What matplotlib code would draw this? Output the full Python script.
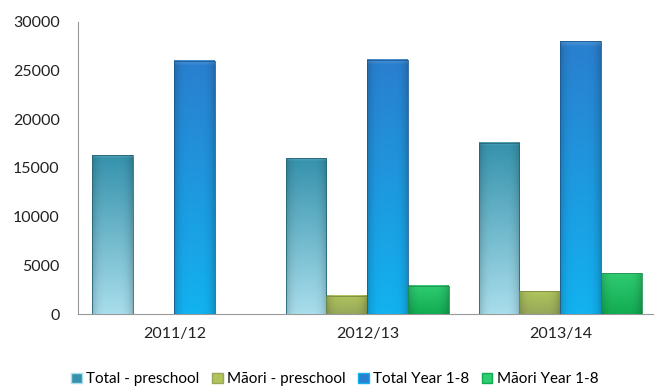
import numpy as np
import matplotlib.pyplot as plt
from matplotlib.patches import Patch

plt.rcParams['font.family'] = ['Lato', 'DejaVu Sans']

years = ['2011/12', '2012/13', '2013/14']
total_preschool = [16300, 16000, 17600]
maori_preschool = [0, 1850, 2350]
total_year18 = [26000, 26100, 28000]
maori_year18 = [0, 2900, 4200]

series = [
    ('Total - preschool', total_preschool, '#3592ac', '#a9deec'),
    ('M\u0101ori - preschool', maori_preschool, '#b0c45c', '#97a85a'),
    ('Total Year 1-8', total_year18, '#2a7fcf', '#12b2f0'),
    ('M\u0101ori Year 1-8', maori_year18, '#2fcc72', '#12ab52'),
]


def hex2rgb(h):
    h = h.lstrip('#')
    return np.array([int(h[i:i + 2], 16) / 255 for i in (0, 2, 4)])


def gradient(top, bottom, ny=200, nx=40):
    t = np.linspace(1, 0, ny)[:, None, None]
    img = hex2rgb(top) * t + hex2rgb(bottom) * (1 - t)
    img = np.repeat(img, nx, axis=1)
    u = np.linspace(-1, 1, nx)[None, :, None]
    img = img * (1 - 0.18 * np.abs(u) ** 4)
    # soft bevel along the top edge, fading downwards
    bevel = np.zeros((ny, 1, 1))
    bevel[:5, 0, 0] = np.linspace(0.15, 0.0, 5)
    img = img + (1 - img) * bevel
    return np.clip(img, 0, 1)


fig = plt.figure(figsize=(6.54, 3.87), dpi=100)
ax = fig.add_axes([0.119, 0.1886, 0.881, 0.7546])

x = np.arange(len(years))
w = 0.212
for i, (name, vals, top, bottom) in enumerate(series):
    bars = ax.bar(x + (i - 1.5) * w, vals, w, color=top, edgecolor='none', zorder=2)
    img = gradient(top, bottom)
    for r in bars:
        h = r.get_height()
        if h <= 0:
            continue
        ax.imshow(img, extent=[r.get_x(), r.get_x() + r.get_width(), 0, h],
                  aspect='auto', zorder=3, interpolation='bilinear')
        ax.add_patch(plt.Rectangle((r.get_x(), 0), r.get_width(), h, fill=False,
                                   edgecolor=hex2rgb(top) * 0.7, lw=0.6, zorder=4))

ax.set_xlim(-0.5, 2.485)
ax.set_ylim(0, 30000)
ax.set_yticks(range(0, 30001, 5000))
ax.set_xticks(x)
ax.set_xticklabels(years)
ax.tick_params(length=0, labelsize=11.5, colors='#222222', pad=9)
ax.tick_params(axis='y', pad=13)
for s in ['top', 'right']:
    ax.spines[s].set_visible(False)
ax.spines['left'].set_color('#999999')
ax.spines['bottom'].set_color('#999999')

handles = [Patch(facecolor=s[2], edgecolor=s[3], label=s[0]) for s in series]
fig.legend(handles=handles, loc='center', bbox_to_anchor=(0.512, 0.02), ncol=4,
           frameon=False, fontsize=11, handlelength=0.7, handleheight=0.7,
           handletextpad=0.3, columnspacing=0.8)

fig.savefig('out.png', dpi=100)
